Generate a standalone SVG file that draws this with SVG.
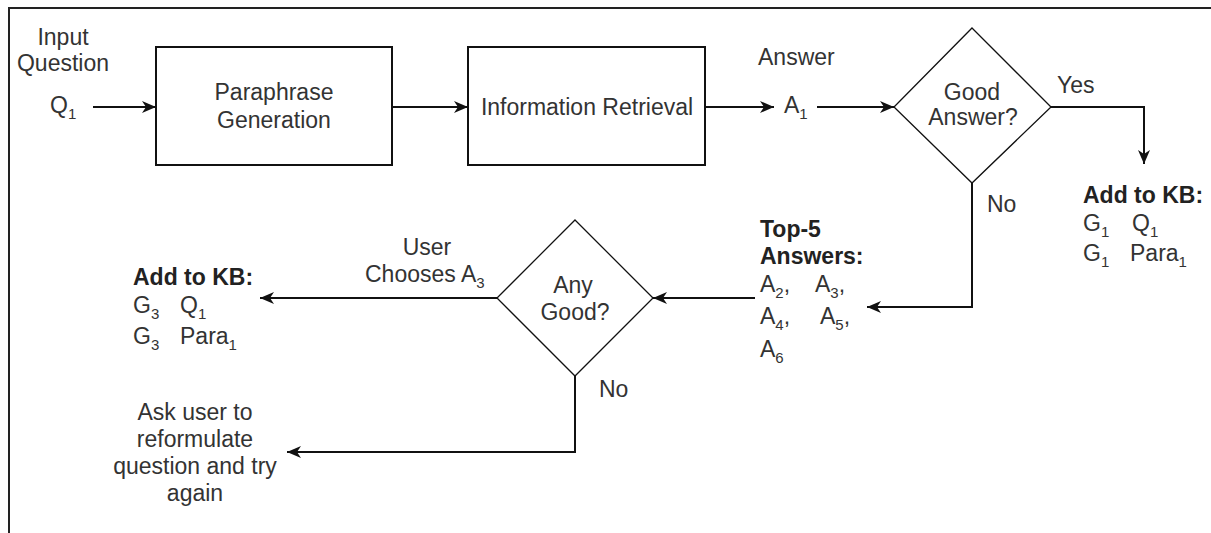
<svg xmlns="http://www.w3.org/2000/svg" width="1211" height="533" viewBox="0 0 1211 533">
<style>
text{font-family:"Liberation Sans",Arial,sans-serif;font-size:23px;fill:#333}
.b{font-weight:bold;fill:#222}
.m{text-anchor:middle}
.s{font-size:15px}
.box{fill:#fff;stroke:#111;stroke-width:2}
.dia{fill:#fff;stroke:#111;stroke-width:1.3}
.edge{fill:none;stroke:#111;stroke-width:2}
</style>
<defs>
<marker id="arr" viewBox="0 0 14 12" refX="14" refY="6" markerWidth="14" markerHeight="12" markerUnits="userSpaceOnUse" orient="auto">
<path d="M0,0 L14,6 L0,12 L4,6 z" fill="#111"/>
</marker>
</defs>
<rect x="0" y="0" width="1211" height="533" fill="#fff"/>
<g id="frame"><path d="M1211,8 H9 V533" fill="none" stroke="#222" stroke-width="2"/></g>

<g id="input">
<text class="m" x="63" y="45">Input</text>
<text class="m" x="63" y="71">Question</text>
<text x="50" y="113">Q<tspan class="s" dy="6">1</tspan></text>
</g>
<g id="paraphrase">
<rect class="box" x="156" y="47" width="236" height="118"/>
<text class="m" x="274" y="100">Paraphrase</text>
<text class="m" x="274" y="128">Generation</text>
</g>
<g id="retrieval">
<rect class="box" x="468" y="47" width="237" height="118"/>
<text class="m" x="587" y="115">Information Retrieval</text>
</g>
<g id="answer">
<text x="758" y="65">Answer</text>
<text x="784" y="113">A<tspan class="s" dy="6">1</tspan></text>
</g>
<g id="good-answer">
<polygon class="dia" points="972,28 1051,107 972,183 894,107"/>
<text class="m" x="972" y="100">Good</text>
<text class="m" x="973" y="125">Answer?</text>
</g>
<g id="kb-right">
<text class="b" x="1083" y="203">Add to KB:</text>
<text x="1083" y="231">G<tspan class="s" dy="6">1</tspan></text>
<text x="1132" y="231">Q<tspan class="s" dy="6">1</tspan></text>
<text x="1083" y="261">G<tspan class="s" dy="6">1</tspan></text>
<text x="1130" y="261">Para<tspan class="s" dy="6">1</tspan></text>
</g>
<g id="top5">
<text class="b" x="760" y="237">Top-5</text>
<text class="b" x="760" y="264">Answers:</text>
<text x="760" y="292">A<tspan class="s" dy="6">2</tspan><tspan dy="-6">,</tspan></text>
<text x="815" y="292">A<tspan class="s" dy="6">3</tspan><tspan dy="-6">,</tspan></text>
<text x="760" y="324">A<tspan class="s" dy="6">4</tspan><tspan dy="-6">,</tspan></text>
<text x="820" y="324">A<tspan class="s" dy="6">5</tspan><tspan dy="-6">,</tspan></text>
<text x="760" y="357">A<tspan class="s" dy="6">6</tspan></text>
</g>
<g id="any-good">
<polygon class="dia" points="575,220 653,298 575,376 497,298"/>
<text class="m" x="573" y="293">Any</text>
<text class="m" x="575" y="320">Good?</text>
</g>
<g id="kb-left">
<text class="b" x="133" y="285">Add to KB:</text>
<text x="133" y="313">G<tspan class="s" dy="6">3</tspan></text>
<text x="180" y="313">Q<tspan class="s" dy="6">1</tspan></text>
<text x="133" y="344">G<tspan class="s" dy="6">3</tspan></text>
<text x="180" y="344">Para<tspan class="s" dy="6">1</tspan></text>
</g>
<g id="reformulate">
<text class="m" x="195" y="420">Ask user to</text>
<text class="m" x="195" y="447">reformulate</text>
<text class="m" x="195" y="474">question and try</text>
<text class="m" x="195" y="501">again</text>
</g>

<g id="connectors">
<line class="edge" x1="93" y1="107" x2="156" y2="107" marker-end="url(#arr)"/>
<line class="edge" x1="392" y1="107" x2="468" y2="107" marker-end="url(#arr)"/>
<line class="edge" x1="705" y1="107" x2="774" y2="107" marker-end="url(#arr)"/>
<line class="edge" x1="817" y1="107" x2="894" y2="107" marker-end="url(#arr)"/>
<polyline class="edge" points="1051,107 1144,107 1144,164" marker-end="url(#arr)"/>
<text x="1057" y="93">Yes</text>
<polyline class="edge" points="972,183 972,307 867,307" marker-end="url(#arr)"/>
<text x="987" y="212">No</text>
<line class="edge" x1="755" y1="298" x2="653" y2="298" marker-end="url(#arr)"/>
<line class="edge" x1="497" y1="298" x2="260" y2="298" marker-end="url(#arr)"/>
<text class="m" x="427" y="255">User</text>
<text x="365" y="282">Chooses A<tspan class="s" dy="6">3</tspan></text>
<polyline class="edge" points="575,376 575,452 287,452" marker-end="url(#arr)"/>
<text x="599" y="397">No</text>
</g>
</svg>
